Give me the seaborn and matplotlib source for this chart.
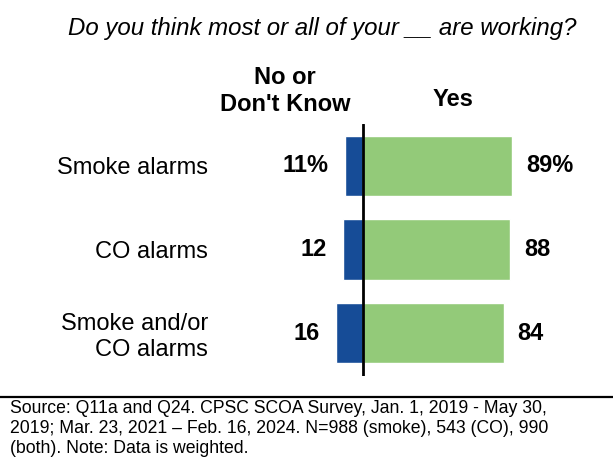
import matplotlib
matplotlib.use("Agg")
import matplotlib.pyplot as plt
import seaborn as sns
import pandas as pd

categories = ["Smoke alarms", "CO alarms", "Smoke and/or\nCO alarms"]
no_values = [11, 12, 16]
yes_values = [89, 88, 84]
no_labels = ["11%", "12", "16"]
yes_labels = ["89%", "88", "84"]
responses = ["No or\nDon't Know", "Yes"]

sns.set_theme(style="white")
plt.rcParams['font.family'] = ['Liberation Sans', 'DejaVu Sans']
plt.rcParams['text.color'] = 'black'
plt.rcParams['ytick.color'] = 'black'
plt.rcParams['ytick.labelcolor'] = 'black'

W, H = 613, 459
fig = plt.figure(figsize=(W / 100, H / 100), dpi=100)

def fx(px):
    return px / W

def fy(py):
    return 1 - py / H

px_per = 1.675
center = 363
ax_left, ax_right = 212, 613
ax_top, ax_bot = 124, 376
ax = fig.add_axes([fx(ax_left), fy(ax_bot), fx(ax_right - ax_left), (ax_bot - ax_top) / H])

df = pd.DataFrame({
    "category": categories * 2,
    "value": [-v for v in no_values] + yes_values,
    "response": [responses[0]] * 3 + [responses[1]] * 3,
})

sns.barplot(data=df, y="category", x="value", hue="response", order=categories,
            hue_order=responses, palette=["#164C97", "#93CA79"], dodge=False,
            width=0.72, orient="h", ax=ax, legend=False, saturation=1)

ax.set_xlim(-(center - ax_left) / px_per, (ax_right - center) / px_per)
spacing = 83.5
ax.set_ylim(2 + (ax_bot - 333) / spacing, -(166 - ax_top) / spacing)
ax.axvline(0, color="black", lw=2)

for s in ax.spines.values():
    s.set_visible(False)
ax.set_xticks([])
ax.set_xlabel("")
ax.set_ylabel("")
ax.tick_params(axis="y", length=0, pad=3, labelsize=17, labelcolor="black")
for lab in ax.get_yticklabels():
    lab.set_horizontalalignment("right")
    lab.set_linespacing(1.2)
ax.get_yticklabels()[0].set_y(-0.04)
ax.get_yticklabels()[2].set_y(2.06)

ax.bar_label(ax.containers[0], labels=no_labels, padding=11.5, fontsize=17,
             fontweight="bold", color="black")
ax.bar_label(ax.containers[1], labels=yes_labels, padding=10, fontsize=17,
             fontweight="bold", color="black")

fig.text(fx(322), fy(29), "Do you think most or all of your __ are working?",
         ha="center", va="center", fontsize=17.3, style="italic")
fig.text(fx(285), fy(77.5), "No or", ha="center", va="center",
         fontsize=17, fontweight="bold")
fig.text(fx(285), fy(104.5), "Don't Know", ha="center", va="center",
         fontsize=17, fontweight="bold")
fig.text(fx(453), fy(99.5), "Yes", ha="center", va="center", fontsize=17, fontweight="bold")

fig.add_artist(plt.Line2D([0, 1], [fy(397), fy(397)], transform=fig.transFigure,
                          color="black", lw=1.6))
fig.text(fx(10), fy(400),
         "Source: Q11a and Q24. CPSC SCOA Survey, Jan. 1, 2019 - May 30,\n"
         "2019; Mar. 23, 2021 \u2013 Feb. 16, 2024. N=988 (smoke), 543 (CO), 990\n"
         "(both). Note: Data is weighted.",
         ha="left", va="top", fontsize=12.7, linespacing=1.22)

fig.savefig("out.png", dpi=100)
